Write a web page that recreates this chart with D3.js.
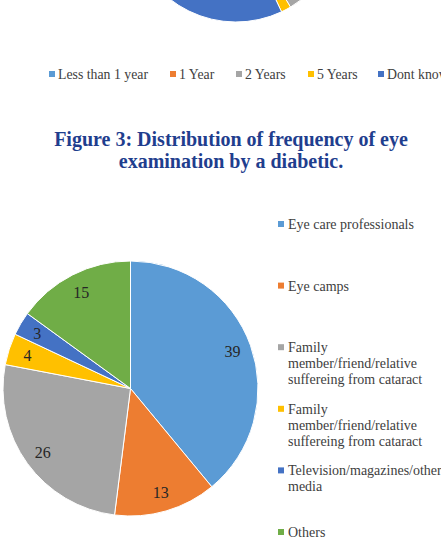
<!DOCTYPE html>
<html>
<head>
<meta charset="utf-8">
<script src="https://cdn.jsdelivr.net/npm/d3@7"></script>
<style>
  body { margin: 0; background: #fff; }
  svg { display: block; font-family: "Liberation Serif", "Times New Roman", serif; }
</style>
</head>
<body>
<script>
// figure 2 (cut off at the top of the page)
var prevCategories = ["Less than 1 year", "1 Year", "2 Years", "5 Years", "Dont know"];
var prevValues = [22, 15, 4.5, 1.5, 57];
var prevColors = ["#5B9BD5", "#ED7D31", "#A5A5A5", "#FFC000", "#4472C4"];

// figure 3
var titleLines = ["Figure 3: Distribution of frequency of eye", "examination by a diabetic."];
var categories = [
  ["Eye care professionals"],
  ["Eye camps"],
  ["Family", "member/friend/relative", "suffereing from cataract"],
  ["Family", "member/friend/relative", "suffereing from cataract"],
  ["Television/magazines/other", "media"],
  ["Others"]
];
var values = [39, 13, 26, 4, 3, 15];
var colors = ["#5B9BD5", "#ED7D31", "#A5A5A5", "#FFC000", "#4472C4", "#70AD47"];

var w = 441, h = 539;
var svg = d3.select("body").append("svg")
    .attr("width", w)
    .attr("height", h);

var pie = d3.pie().sort(null).value(function(d) { return d; });

// partial pie at the top
var r0 = 107;
var arc0 = d3.arc().innerRadius(0).outerRadius(r0);
svg.append("g")
    .attr("transform", "translate(236,-85)")
    .selectAll("path")
    .data(pie(prevValues))
    .enter()
    .append("path")
    .attr("d", arc0)
    .attr("fill", function(d, i) { return prevColors[i]; })
    .attr("stroke", "#fff")
    .attr("stroke-width", 1);

// legend of figure 2
var legX = [49, 170, 236, 308, 378];
var leg0 = svg.append("g").selectAll("g")
    .data(prevCategories)
    .enter()
    .append("g")
    .attr("transform", function(d, i) { return "translate(" + legX[i] + ",79)"; });
leg0.append("rect")
    .attr("x", 0).attr("y", -8)
    .attr("width", 6).attr("height", 6)
    .attr("fill", function(d, i) { return prevColors[i]; });
leg0.append("text")
    .attr("x", 9)
    .attr("font-size", "13.8px")
    .attr("fill", "#404040")
    .text(function(d) { return d; });

// title
svg.append("text")
    .attr("x", 231)
    .attr("y", 146)
    .attr("text-anchor", "middle")
    .attr("font-size", "20px")
    .attr("font-weight", "bold")
    .attr("fill", "#1F3E8E")
    .selectAll("tspan")
    .data(titleLines)
    .enter()
    .append("tspan")
    .attr("x", 231)
    .attr("dy", function(d, i) { return i === 0 ? 0 : 22; })
    .text(function(d) { return d; });

// main pie
var r = 127.5;
var arc = d3.arc().innerRadius(0).outerRadius(r);
var labelArc = d3.arc().innerRadius(r * 0.85).outerRadius(r * 0.85);
var g = svg.append("g").attr("transform", "translate(130.5,388.5)");
var slices = g.selectAll("g.slice")
    .data(pie(values))
    .enter()
    .append("g")
    .attr("class", "slice");
slices.append("path")
    .attr("d", arc)
    .attr("fill", function(d, i) { return colors[i]; })
    .attr("stroke", "#fff")
    .attr("stroke-width", 1);
slices.append("text")
    .attr("transform", function(d) { return "translate(" + labelArc.centroid(d) + ")"; })
    .attr("text-anchor", "middle")
    .attr("dy", "0.35em")
    .attr("font-size", "16px")
    .attr("fill", "#262626")
    .text(function(d) { return d.data; });

// legend of figure 3
var leg = svg.append("g").selectAll("g")
    .data(categories)
    .enter()
    .append("g")
    .attr("transform", function(d, i) { return "translate(278," + (229 + i * 61.6) + ")"; });
leg.append("rect")
    .attr("x", 0).attr("y", -8)
    .attr("width", 6).attr("height", 6)
    .attr("fill", function(d, i) { return colors[i]; });
leg.append("text")
    .attr("font-size", "14px")
    .attr("fill", "#404040")
    .selectAll("tspan")
    .data(function(d) { return d; })
    .enter()
    .append("tspan")
    .attr("x", 10)
    .attr("y", function(d, i) { return i * 16; })
    .text(function(d) { return d; });
</script>
</body>
</html>
